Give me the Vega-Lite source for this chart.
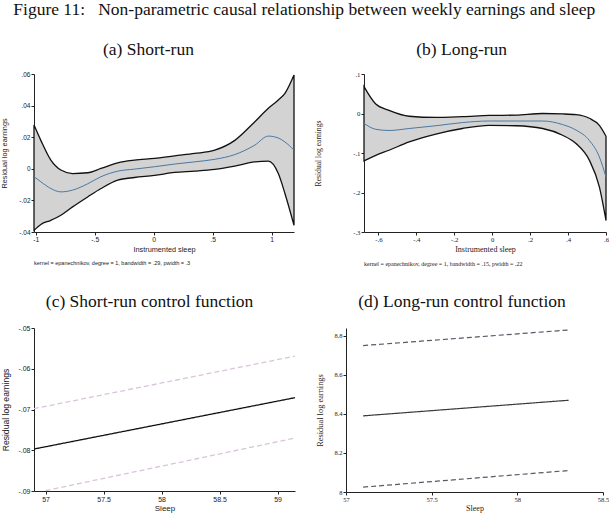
{
  "$schema": "https://vega.github.io/schema/vega-lite/v6.json",
  "background": "white",
  "padding": {"left": 0, "top": 0, "right": 0, "bottom": 0},
  "title": {
    "text": "Figure 11:\u00a0\u00a0 Non-parametric causal relationship between weekly earnings and sleep",
    "font": "Liberation Serif", "fontSize": 17.5, "fontWeight": "normal", "color": "#111",
    "anchor": "start", "dx": 13, "offset": 22.5
  },
  "config": {
    "view": {"stroke": null},
    "axis": {
      "grid": false, "domainColor": "#222", "tickColor": "#222", "labelColor": "#222", "titleColor": "#222",
      "tickSize": 3, "labelPadding": 1, "titleFontWeight": "normal", "labelFlush": false, "labelOverlap": false
    }
  },
  "datasets": {
    "shortrun": [
      {"x": -1.015, "lo": -0.0389, "hi": 0.0277, "mean": -0.005},
      {"x": -0.957, "lo": -0.0352, "hi": 0.018, "mean": -0.0082},
      {"x": -0.872, "lo": -0.0326, "hi": 0.0055, "mean": -0.0125},
      {"x": -0.787, "lo": -0.0294, "hi": -0.0008, "mean": -0.0146},
      {"x": -0.688, "lo": -0.0241, "hi": -0.003, "mean": -0.0135},
      {"x": -0.56, "lo": -0.0178, "hi": -0.0025, "mean": -0.0095},
      {"x": -0.447, "lo": -0.0125, "hi": 0.0002, "mean": -0.005},
      {"x": -0.305, "lo": -0.0072, "hi": 0.0038, "mean": -0.0015},
      {"x": -0.163, "lo": -0.0055, "hi": 0.0055, "mean": -0.0002},
      {"x": 0.007, "lo": -0.0042, "hi": 0.0066, "mean": 0.0013},
      {"x": 0.177, "lo": -0.0023, "hi": 0.0082, "mean": 0.003},
      {"x": 0.348, "lo": -0.0015, "hi": 0.0097, "mean": 0.0044},
      {"x": 0.518, "lo": -0.0004, "hi": 0.0118, "mean": 0.006},
      {"x": 0.688, "lo": 0.0017, "hi": 0.018, "mean": 0.009},
      {"x": 0.858, "lo": 0.0044, "hi": 0.0298, "mean": 0.015},
      {"x": 0.972, "lo": 0.0048, "hi": 0.0383, "mean": 0.0207},
      {"x": 1.057, "lo": -0.003, "hi": 0.0435, "mean": 0.0195},
      {"x": 1.113, "lo": -0.0156, "hi": 0.0478, "mean": 0.017},
      {"x": 1.19, "lo": -0.0357, "hi": 0.0594, "mean": 0.0118}
    ],
    "longrun": [
      {"x": -0.676, "lo": -0.12, "hi": 0.068, "mean": -0.025},
      {"x": -0.614, "lo": -0.106, "hi": 0.024, "mean": -0.04},
      {"x": -0.544, "lo": -0.093, "hi": 0.008, "mean": -0.043},
      {"x": -0.438, "lo": -0.072, "hi": -0.007, "mean": -0.038},
      {"x": -0.297, "lo": -0.052, "hi": -0.01, "mean": -0.031},
      {"x": -0.157, "lo": -0.038, "hi": -0.008, "mean": -0.023},
      {"x": -0.016, "lo": -0.03, "hi": -0.005, "mean": -0.019},
      {"x": 0.125, "lo": -0.031, "hi": -0.004, "mean": -0.019},
      {"x": 0.266, "lo": -0.038, "hi": 0.0, "mean": -0.019},
      {"x": 0.371, "lo": -0.055, "hi": -0.001, "mean": -0.028},
      {"x": 0.442, "lo": -0.076, "hi": -0.003, "mean": -0.042},
      {"x": 0.512, "lo": -0.118, "hi": -0.012, "mean": -0.068},
      {"x": 0.565, "lo": -0.186, "hi": -0.03, "mean": -0.11},
      {"x": 0.6, "lo": -0.271, "hi": -0.0575, "mean": -0.161}
    ],
    "shortcf": [
      {"x": 56.9, "y": -0.0797, "s": "fit"},
      {"x": 59.15, "y": -0.0671, "s": "fit"},
      {"x": 56.9, "y": -0.0698, "s": "upper"},
      {"x": 59.15, "y": -0.0569, "s": "upper"},
      {"x": 57.0, "y": -0.0899, "s": "lower"},
      {"x": 59.15, "y": -0.077, "s": "lower"}
    ],
    "longcf": [
      {"x": 57.1, "y": 8.39, "s": "fit"},
      {"x": 58.3, "y": 8.47, "s": "fit"},
      {"x": 57.1, "y": 8.75, "s": "upper"},
      {"x": 58.3, "y": 8.83, "s": "upper"},
      {"x": 57.1, "y": 8.025, "s": "lower"},
      {"x": 58.3, "y": 8.11, "s": "lower"}
    ]
  },
  "resolve": {"scale": {"color": "independent", "strokeDash": "independent"}},
  "spacing": 24,
  "vconcat": [
    {
      "spacing": 17,
      "hconcat": [
        {
          "title": {"text": "(a) Short-run", "font": "Liberation Serif", "fontSize": 17.5, "fontWeight": "normal", "color": "#111", "anchor": "middle", "offset": 13},
          "vconcat": [
            {
              "width": 260,
              "height": 158,
              "data": {"name": "shortrun"},
              "title": {"text": "kernel = epanechnikov, degree = 1, bandwidth = .29, pwidth = .3", "orient": "bottom", "anchor": "start", "frame": "group", "font": "Liberation Sans", "fontSize": 5.5, "fontWeight": "normal", "color": "#222", "offset": 8},
              "encoding": {
                "x": {
                  "field": "x", "type": "quantitative", "title": "Instrumented sleep",
                  "scale": {"domain": [-1.015, 1.19], "nice": false, "zero": false},
                  "axis": {"values": [-1, -0.5, 0, 0.5, 1], "format": ".1~f", "labelExpr": "replace(replace(datum.label, '0.', '.'), '\u2212', '-')", "labelOverlap": false,
                    "labelFont": "Liberation Sans", "labelFontSize": 6.8, "titleFont": "Liberation Sans", "titleFontSize": 7.3, "titlePadding": 3}
                }
              },
              "layer": [
                {
                  "mark": {"type": "area", "fill": "#d3d3d3", "stroke": "#111", "strokeWidth": 1.3, "interpolate": "monotone"},
                  "encoding": {
                    "y": {
                      "field": "lo", "type": "quantitative", "title": "Residual log earnings",
                      "scale": {"domain": [-0.04, 0.06], "nice": false, "zero": false},
                      "axis": {"values": [-0.04, -0.02, 0, 0.02, 0.04, 0.06], "format": ".2~f", "labelExpr": "replace(replace(datum.label, '0.', '.'), '\u2212', '-')", "labelOverlap": false,
                        "labelFont": "Liberation Sans", "labelFontSize": 6.5, "titleFont": "Liberation Sans", "titleFontSize": 7.3, "titlePadding": 10.5}
                    },
                    "y2": {"field": "hi"}
                  }
                },
                {
                  "mark": {"type": "line", "color": "#4a78a3", "strokeWidth": 1, "interpolate": "monotone"},
                  "encoding": {
                    "y": {
                      "field": "mean", "type": "quantitative", "title": "Residual log earnings",
                      "scale": {"domain": [-0.04, 0.06], "nice": false, "zero": false},
                      "axis": {"values": [-0.04, -0.02, 0, 0.02, 0.04, 0.06], "format": ".2~f", "labelExpr": "replace(replace(datum.label, '0.', '.'), '\u2212', '-')", "labelOverlap": false,
                        "labelFont": "Liberation Sans", "labelFontSize": 6.5, "titleFont": "Liberation Sans", "titleFontSize": 7.3, "titlePadding": 10.5}
                    }
                  }
                }
              ]
            }
          ]
        },
        {
          "title": {"text": "(b) Long-run", "font": "Liberation Serif", "fontSize": 17.5, "fontWeight": "normal", "color": "#111", "anchor": "middle", "offset": 13},
          "vconcat": [
            {
              "width": 242,
              "height": 158,
              "data": {"name": "longrun"},
              "title": {"text": "kernel = epanechnikov, degree = 1, bandwidth = .15, pwidth = .22", "orient": "bottom", "anchor": "start", "frame": "group", "font": "Liberation Serif", "fontSize": 6, "fontWeight": "normal", "color": "#222", "offset": 7.5},
              "encoding": {
                "x": {
                  "field": "x", "type": "quantitative", "title": "Instrumented sleep",
                  "scale": {"domain": [-0.676, 0.6], "nice": false, "zero": false},
                  "axis": {"values": [-0.6, -0.4, -0.2, 0, 0.2, 0.4, 0.6], "format": ".1~f", "labelExpr": "replace(replace(datum.label, '0.', '.'), '\u2212', '-')", "labelOverlap": false,
                    "labelFont": "Liberation Serif", "labelFontSize": 6.8, "titleFont": "Liberation Serif", "titleFontSize": 8, "titlePadding": 3}
                }
              },
              "layer": [
                {
                  "mark": {"type": "area", "fill": "#d3d3d3", "stroke": "#111", "strokeWidth": 1.3, "interpolate": "monotone"},
                  "encoding": {
                    "y": {
                      "field": "lo", "type": "quantitative", "title": "Residual log earnings",
                      "scale": {"domain": [-0.3, 0.1], "nice": false, "zero": false},
                      "axis": {"values": [-0.3, -0.2, -0.1, 0, 0.1], "format": ".1~f", "labelExpr": "replace(replace(datum.label, '0.', '.'), '\u2212', '-')", "labelOverlap": false,
                        "labelFont": "Liberation Serif", "labelFontSize": 6.8, "titleFont": "Liberation Serif", "titleFontSize": 7.6, "titlePadding": 30}
                    },
                    "y2": {"field": "hi"}
                  }
                },
                {
                  "mark": {"type": "line", "color": "#4a78a3", "strokeWidth": 1, "interpolate": "monotone"},
                  "encoding": {
                    "y": {
                      "field": "mean", "type": "quantitative", "title": "Residual log earnings",
                      "scale": {"domain": [-0.3, 0.1], "nice": false, "zero": false},
                      "axis": {"values": [-0.3, -0.2, -0.1, 0, 0.1], "format": ".1~f", "labelExpr": "replace(replace(datum.label, '0.', '.'), '\u2212', '-')", "labelOverlap": false,
                        "labelFont": "Liberation Serif", "labelFontSize": 6.8, "titleFont": "Liberation Serif", "titleFontSize": 7.6, "titlePadding": 30}
                    }
                  }
                }
              ]
            }
          ]
        }
      ]
    },
    {
      "spacing": 17,
      "resolve": {"scale": {"color": "independent", "strokeDash": "independent"}},
      "hconcat": [
        {
          "title": {"text": "(c) Short-run control function", "font": "Liberation Serif", "fontSize": 17.5, "fontWeight": "normal", "color": "#111", "anchor": "middle", "offset": 14},
          "vconcat": [
            {
              "width": 261,
              "height": 163,
              "data": {"name": "shortcf"},
              "mark": {"type": "line", "strokeWidth": 1.3},
              "encoding": {
                "x": {
                  "field": "x", "type": "quantitative", "title": "Sleep",
                  "scale": {"domain": [56.9, 59.15], "nice": false, "zero": false},
                  "axis": {"values": [57, 57.5, 58, 58.5, 59], "format": ".1~f", "labelOverlap": false,
                    "labelFont": "Liberation Sans", "labelFontSize": 7, "titleFont": "Liberation Sans", "titleFontSize": 8, "titlePadding": 2}
                },
                "y": {
                  "field": "y", "type": "quantitative", "title": "Residual log earnings",
                  "scale": {"domain": [-0.09, -0.05], "nice": false, "zero": false},
                  "axis": {"values": [-0.09, -0.08, -0.07, -0.06, -0.05], "format": ".2~f", "labelExpr": "replace(replace(datum.label, '0.', '.'), '\u2212', '-')", "labelOverlap": false,
                    "labelFont": "Liberation Sans", "labelFontSize": 7, "titleFont": "Liberation Sans", "titleFontSize": 8.6, "titlePadding": 7.4}
                },
                "color": {"field": "s", "type": "nominal", "legend": null,
                  "scale": {"domain": ["fit", "upper", "lower"], "range": ["#111111", "#d9c5d9", "#d9c5d9"]}},
                "strokeDash": {"field": "s", "type": "nominal", "legend": null,
                  "scale": {"domain": ["fit", "upper", "lower"], "range": [[1, 0], [5, 3], [5, 3]]}}
              }
            }
          ]
        },
        {
          "title": {"text": "(d) Long-run control function", "font": "Liberation Serif", "fontSize": 17.5, "fontWeight": "normal", "color": "#111", "anchor": "middle", "offset": 17.5},
          "vconcat": [
            {
              "width": 257,
              "height": 164,
              "data": {"name": "longcf"},
              "mark": {"type": "line", "strokeWidth": 1.2},
              "encoding": {
                "x": {
                  "field": "x", "type": "quantitative", "title": "Sleep",
                  "scale": {"domain": [57, 58.5], "nice": false, "zero": false},
                  "axis": {"values": [57, 57.5, 58, 58.5], "format": ".1~f", "labelOverlap": false,
                    "labelFont": "Liberation Serif", "labelFontSize": 6.5, "titleFont": "Liberation Serif", "titleFontSize": 8, "titlePadding": 2}
                },
                "y": {
                  "field": "y", "type": "quantitative", "title": "Residual log earnings",
                  "scale": {"domain": [8, 8.84], "nice": false, "zero": false},
                  "axis": {"values": [8, 8.2, 8.4, 8.6, 8.8], "format": ".1~f", "labelOverlap": false,
                    "labelFont": "Liberation Serif", "labelFontSize": 6.5, "titleFont": "Liberation Serif", "titleFontSize": 8.4, "titlePadding": 9.6}
                },
                "color": {"field": "s", "type": "nominal", "legend": null,
                  "scale": {"domain": ["fit", "upper", "lower"], "range": ["#3a3a3a", "#5c5868", "#5c5868"]}},
                "strokeDash": {"field": "s", "type": "nominal", "legend": null,
                  "scale": {"domain": ["fit", "upper", "lower"], "range": [[1, 0], [5, 3], [5, 3]]}}
              }
            }
          ]
        }
      ]
    }
  ]
}
